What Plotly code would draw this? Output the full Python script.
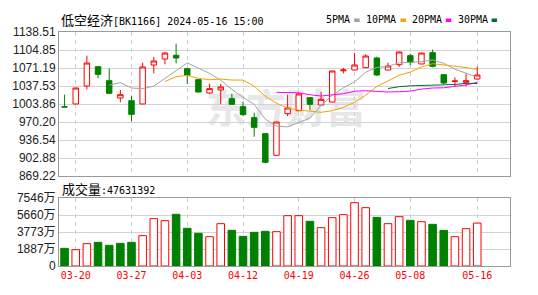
import plotly.graph_objects as go
import pandas as pd

# ---------------- data ----------------
dates = ["03-19", "03-20", "03-21", "03-22", "03-25", "03-26", "03-27", "03-28", "03-29",
         "04-01", "04-02", "04-03", "04-08", "04-09", "04-10", "04-11", "04-12", "04-15",
         "04-16", "04-17", "04-18", "04-19", "04-22", "04-23", "04-24", "04-25", "04-26",
         "04-29", "04-30", "05-06", "05-07", "05-08", "05-09", "05-10", "05-13", "05-14",
         "05-15", "05-16"]
opens = [998.8, 1003.9, 1037.5, 1073.7, 1047.5, 1015.1, 1010.1, 1003.9, 1076.8, 1088.0,
         1094.9, 1070.0, 1049.4, 1024.4, 1030.1, 1013.9, 998.9, 978.3, 948.4, 907.9,
         985.8, 991.4, 1015.7, 1002.0, 1007.6, 1066.0, 1067.4, 1071.8, 1089.9, 1067.4,
         1077.4, 1094.3, 1078.7, 1099.9, 1058.7, 1046.2, 1044.4, 1050.6]
highs = [1021.3, 1034.3, 1094.3, 1073.9, 1070.0, 1030.1, 1019.5, 1081.2, 1091.8, 1101.1,
         1116.7, 1070.2, 1049.6, 1041.9, 1041.9, 1023.2, 1008.2, 987.7, 949.0, 970.5,
         1021.3, 1024.0, 1016.0, 1026.9, 1066.0, 1071.5, 1099.2, 1096.8, 1092.4, 1081.2,
         1102.0, 1098.0, 1100.0, 1105.5, 1059.0, 1053.7, 1061.2, 1073.7]
lows = [998.0, 1003.4, 1031.3, 1051.9, 1023.5, 1007.0, 971.5, 1003.6, 1061.2, 1078.1,
        1079.9, 1041.3, 1026.0, 1022.6, 1003.3, 1003.0, 982.0, 942.7, 892.9, 907.5,
        980.8, 990.0, 992.6, 1001.5, 1007.2, 1061.0, 1067.0, 1071.5, 1056.2, 1067.0,
        1073.1, 1076.2, 1078.4, 1072.4, 1041.3, 1036.9, 1036.9, 1049.4]
closes = [998.2, 1033.8, 1080.5, 1059.3, 1023.8, 1021.3, 984.5, 1073.1, 1084.3, 1099.2,
          1089.9, 1057.5, 1026.3, 1032.6, 1035.7, 1003.3, 983.9, 960.2, 894.8, 970.2,
          996.4, 1022.6, 1003.3, 1012.6, 1065.6, 1067.5, 1076.8, 1093.6, 1058.1, 1074.9,
          1101.1, 1081.8, 1099.2, 1074.3, 1043.1, 1046.8, 1047.5, 1058.1]
volumes_wan = [1960, 1813, 2478, 2626, 2293, 2515, 2626, 3366, 5253, 5031,
               5733, 4180, 3625, 3255, 4698, 3958, 3292, 3736, 3847, 3810,
               5586, 5586, 4957, 4254, 5364, 5697, 7028, 6473, 5401, 4698,
               5475, 5068, 4920, 4624, 3958, 3255, 4143, 4763]
vol_up = [False, True, True, False, False, False, False, True, True, True,
          False, False, False, True, True, False, False, False, False, True,
          True, True, False, True, True, True, True, True, False, True,
          True, False, True, False, False, True, True, True]

price_ticks = [869.22, 902.88, 936.54, 970.20, 1003.86, 1037.53, 1071.19, 1104.85, 1138.51]
vol_ticks = [0, 1886.5, 3773, 5659.5, 7546]
vol_tick_text = ["0", "1887万", "3773万", "5660万", "7546万"]
date_ticks = ["03-20", "03-27", "04-03", "04-12", "04-19", "04-26", "05-08", "05-16"]

ma_periods = [5, 10, 20, 30]
ma_names = ["5PMA", "10PMA", "20PMA", "30PMA"]
ma_colors = ["#a3a3a3", "#f5a300", "#ff00ff", "#00703a"]

title_text = "低空经济[BK1166] 2024-05-16 15:00"
vol_label = "成交量:47631392"

# ---------------- figure ----------------
RED = "#ff0000"
GREEN = "#008000"
W, H = 538, 295
ML, MR, MT, MB = 57, 28, 32, 29
PW = W - ML - MR
PH = H - MT - MB

def px_x(p):
    return (p - ML) / PW

def px_y(p):
    return (H - MB - p) / PH

idx = list(range(len(dates)))
tickpos = [dates.index(d) for d in date_ticks]

fig = go.Figure()

fig.add_trace(go.Candlestick(
    x=idx, open=opens, high=highs, low=lows, close=closes,
    increasing=dict(line=dict(color=RED, width=1), fillcolor="white"),
    decreasing=dict(line=dict(color=GREEN, width=1), fillcolor=GREEN),
    whiskerwidth=0, xaxis="x", yaxis="y", hoverinfo="skip", showlegend=False,
))

cs = pd.Series(closes)
for n, name, col in zip(ma_periods, ma_names, ma_colors):
    ma = cs.rolling(n).mean()
    fig.add_trace(go.Scatter(
        x=idx, y=ma, mode="lines", line=dict(color=col, width=1),
        xaxis="x", yaxis="y", showlegend=False, hoverinfo="skip", name=name,
    ))

fig.add_trace(go.Bar(
    x=idx, y=volumes_wan, width=0.68,
    marker=dict(color=["white" if u else GREEN for u in vol_up],
                line=dict(color=[RED if u else GREEN for u in vol_up], width=1)),
    xaxis="x2", yaxis="y2", showlegend=False, hoverinfo="skip",
))

AX = dict(showline=True, mirror=True, linecolor="#9a9a9a", linewidth=1,
          zeroline=False, ticks="", fixedrange=True)
xrange = [-0.5, 39.94]
main_dom = [px_y(176), 1]
vol_dom = [0, px_y(198)]

fig.update_layout(
    width=W, height=H, margin=dict(l=ML, r=MR, t=MT, b=MB),
    paper_bgcolor="white", plot_bgcolor="white", showlegend=False,
    xaxis=dict(domain=[0, 1], anchor="y", range=xrange, tickvals=tickpos,
               showticklabels=False, showgrid=True, gridcolor="#cfcfcf",
               griddash="4px,4px", gridwidth=1, rangeslider=dict(visible=False), **AX),
    yaxis=dict(domain=main_dom, anchor="x", range=[price_ticks[0], price_ticks[-1]],
               tickvals=price_ticks, ticktext=["%.2f" % v for v in price_ticks],
               showgrid=True, gridcolor="#d3d3d3", gridwidth=1,
               tickfont=dict(family="Liberation Sans, Arial", size=12, color="#222222"), **AX),
    xaxis2=dict(domain=[0, 1], anchor="y2", range=xrange, tickvals=tickpos,
                ticktext=date_ticks, showgrid=True, gridcolor="#cfcfcf",
                griddash="4px,4px", gridwidth=1,
                tickfont=dict(family="DejaVu Sans Mono", size=10, color=RED), **AX),
    yaxis2=dict(domain=vol_dom, anchor="x2", range=[0, vol_ticks[-1]],
                tickvals=vol_ticks, ticktext=vol_tick_text, showgrid=True,
                gridcolor="#d3d3d3", gridwidth=1,
                tickfont=dict(family="Liberation Sans, Noto Sans CJK SC", size=12, color="#222222"), **AX),
)

# watermark (below traces)
fig.add_shape(type="rect", xref="paper", yref="paper",
              x0=px_x(195), x1=px_x(375), y0=px_y(135), y1=px_y(88),
              line=dict(width=0), fillcolor="rgba(0,0,0,0)", layer="below",
              label=dict(text="东方财富", textposition="middle center",
                         font=dict(family="Noto Sans CJK SC", size=40, color="#e7e7ea", weight="bold")))

CJK = "font-family:'Noto Sans CJK SC';font-size:13px"
def mixed(s, n_cjk):
    return "<span style=\"%s\">%s</span>%s" % (CJK, s[:n_cjk], s[n_cjk:])

fig.add_annotation(xref="paper", yref="paper", x=0, y=px_y(20), xanchor="left", yanchor="middle",
                   text=mixed(title_text, 4), showarrow=False,
                   font=dict(family="DejaVu Sans Mono", size=10, color="#000000"))
fig.add_annotation(xref="paper", yref="paper", x=px_x(58), y=px_y(188), xanchor="left", yanchor="middle",
                   text=mixed(vol_label, 3), showarrow=False,
                   font=dict(family="DejaVu Sans Mono", size=10, color="#000000"))

leg_right = [351.5, 398, 443.5, 489.5]
for name, col, xr in zip(ma_names, ma_colors, leg_right):
    fig.add_annotation(xref="paper", yref="paper", x=px_x(xr), y=px_y(20), xanchor="right",
                       yanchor="middle", text=name, showarrow=False,
                       font=dict(family="DejaVu Sans Mono", size=10, color="#000000"))
    fig.add_shape(type="rect", xref="paper", yref="paper",
                  x0=px_x(xr + 2), x1=px_x(xr + 7.5), y0=px_y(22), y1=px_y(18.5),
                  line=dict(width=0), fillcolor=col)

fig.write_html("out.html")
